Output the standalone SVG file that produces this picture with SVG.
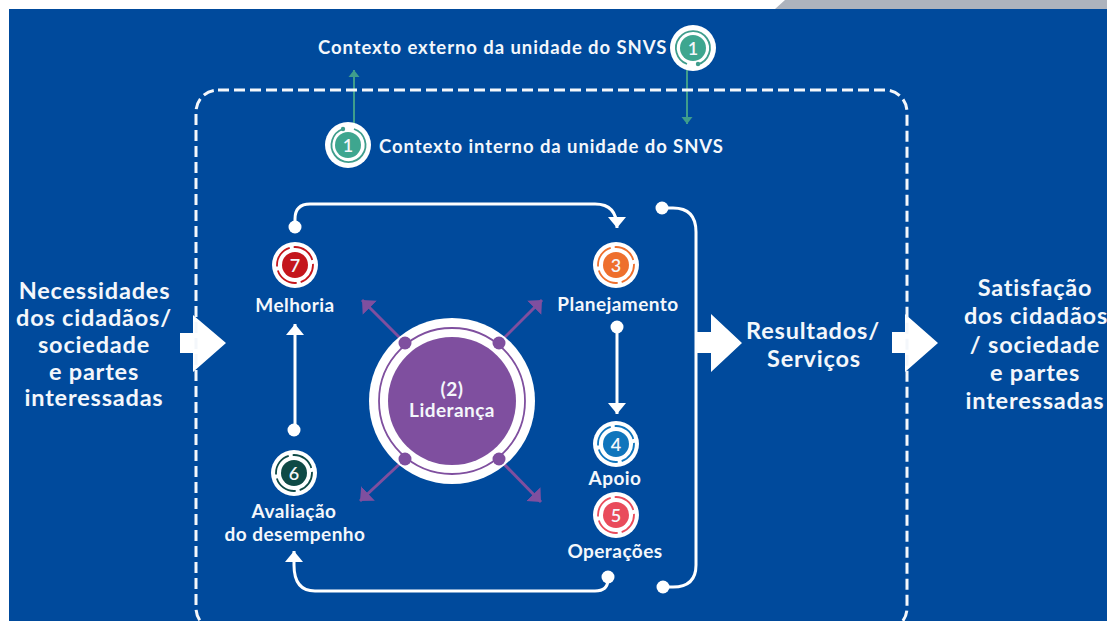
<svg xmlns="http://www.w3.org/2000/svg" width="1107" height="621" viewBox="0 0 1107 621">
<defs>
<style>
text{font-family:"Lato","Liberation Sans",sans-serif;font-weight:700;fill:#f4f7fb;text-anchor:middle}
.ctx{font-size:18.500px;letter-spacing:.92px;text-anchor:start}
.lab{font-size:19px;letter-spacing:.45px}
.big{font-size:23.500px;letter-spacing:.8px}
.num{font-size:18px;font-weight:600}
.w{fill:none;stroke:#fff;stroke-width:3}
.g{fill:none;stroke:#3f9d8c;stroke-width:2}
.r{fill:none;stroke:#3f9d8c;stroke-width:1.800}
.p{fill:none;stroke:#7f4f9f;stroke-width:3}
.d{fill:none;stroke-width:1.800;stroke-dasharray:24.300 4;stroke-dashoffset:2}
</style>
<marker id="ah" markerUnits="userSpaceOnUse" markerWidth="12" markerHeight="20" refX="11" refY="10" orient="auto"><path d="M0 1L11 10L0 19Z" fill="#fff"/></marker>
<marker id="ag" markerUnits="userSpaceOnUse" markerWidth="8" markerHeight="12" refX="7" refY="6" orient="auto"><path d="M0 .5L7 6L0 11.5Z" fill="#3f9d8c"/></marker>
<marker id="ap" markerUnits="userSpaceOnUse" markerWidth="12" markerHeight="22" refX="11" refY="11" orient="auto"><path d="M0 1L11 11L0 21Z" fill="#7f4f9f"/></marker>
</defs>
<rect width="1107" height="621" fill="#fff"/>
<path d="M775 9L785 0H1107V9Z" fill="#adb3bd"/>
<rect x="9" y="9" width="1098" height="612" fill="#004a9c"/>

<g id="connectors">
<path class="g" d="M354 128V70" marker-end="url(#ag)"/>
<path class="g" d="M687 68V124" marker-end="url(#ag)"/>
<path class="w" d="M295 228V219Q295 204 310 204H595Q617 204 617 228" marker-end="url(#ah)"/>
<circle cx="295" cy="227" r="6.500" fill="#fff"/>
<path class="w" d="M662 208H673Q696 208 696 232V565Q696 587 673 587H662"/>
<circle cx="662" cy="208" r="6.500" fill="#fff"/>
<circle cx="663" cy="587" r="6.500" fill="#fff"/>
<path class="w" d="M617 327V414" marker-end="url(#ah)"/>
<circle cx="617" cy="327" r="6.500" fill="#fff"/>
<path class="w" d="M295 430V324" marker-end="url(#ah)"/>
<circle cx="294" cy="430" r="6.500" fill="#fff"/>
<path class="w" d="M608 577V579Q608 591 595 591H315Q294 591 294 565V551" marker-end="url(#ah)"/>
<circle cx="608" cy="577" r="6.500" fill="#fff"/>
<path class="p" d="M405 343L362 300" marker-end="url(#ap)"/>
<path class="p" d="M499 343L542 300" marker-end="url(#ap)"/>
<path class="p" d="M405 459L360 501" marker-end="url(#ap)"/>
<path class="p" d="M499 459L541 502" marker-end="url(#ap)"/>
<path d="M180 333H193V315L226 343L193 372V353H180Z" fill="#fff"/>
<path d="M697 332H711V314L742 343L711 372V353H697Z" fill="#fff"/>
<path d="M892 332H905V314L938 343L905 372V353H892Z" fill="#fff"/>
</g>
<rect id="limite" x="196" y="90" width="711" height="540" rx="22" fill="none" stroke="#f4f7fb" stroke-width="3" stroke-dasharray="11 5"/>

<g id="ctx-ext">
<text class="ctx" x="318" y="53.500">Contexto externo da unidade do SNVS</text>
<circle cx="693" cy="48" r="23" fill="#fff"/>
<path class="r" d="M687 64A17 17 0 1 1 698 64.300"/>
<circle cx="698" cy="64" r="2.200" fill="#3f9d8c"/>
<circle cx="693" cy="48" r="13" fill="#3ea68f"/>
<text class="num" x="693" y="54.500">1</text>
</g>
<g id="ctx-int">
<circle cx="348" cy="145" r="23" fill="#fff"/>
<path class="r" d="M354 129A17 17 0 1 1 343 129"/>
<circle cx="343" cy="129" r="2.200" fill="#3f9d8c"/>
<circle cx="348" cy="145" r="13" fill="#3ea68f"/>
<text class="num" x="348" y="151.500">1</text>
<text class="ctx" x="379" y="152.500">Contexto interno da unidade do SNVS</text>
</g>

<g id="n7">
<circle cx="295" cy="265" r="23" fill="#fff"/>
<circle cx="295" cy="265" r="18" class="d" stroke="#c4161c"/>
<circle cx="295" cy="265" r="13" fill="#c4161c"/>
<text class="num" x="295" y="271.500">7</text>
<text class="lab" x="295" y="312">Melhoria</text>
</g>
<g id="n3">
<circle cx="616" cy="265" r="23" fill="#fff"/>
<circle cx="616" cy="265" r="18" class="d" stroke="#ee6f2d"/>
<circle cx="616" cy="265" r="13" fill="#ee6f2d"/>
<text class="num" x="616" y="271.500">3</text>
<text class="lab" x="618" y="311">Planejamento</text>
</g>
<g id="n4">
<circle cx="616" cy="444" r="23" fill="#fff"/>
<circle cx="616" cy="444" r="18" class="d" stroke="#0f75bc"/>
<circle cx="616" cy="444" r="13" fill="#0f75bc"/>
<text class="num" x="616" y="450.500">4</text>
<text class="lab" x="615" y="485">Apoio</text>
</g>
<g id="n5">
<circle cx="616" cy="515" r="23" fill="#fff"/>
<circle cx="616" cy="515" r="18" class="d" stroke="#e94b5b"/>
<circle cx="616" cy="515" r="13" fill="#e94b5b"/>
<text class="num" x="616" y="521.500">5</text>
<text class="lab" x="615" y="558">Operações</text>
</g>
<g id="n6">
<circle cx="294" cy="473" r="23" fill="#fff"/>
<circle cx="294" cy="473" r="18" class="d" stroke="#0f4a46"/>
<circle cx="294" cy="473" r="13" fill="#0f4a46"/>
<text class="num" x="294" y="479.500">6</text>
<text class="lab" x="294" y="518">Avaliação</text>
<text class="lab" x="295" y="541">do desempenho</text>
</g>

<g id="lideranca">
<circle cx="452" cy="401" r="83" fill="#fff"/>
<circle cx="452" cy="401" r="73" fill="none" stroke="#7f4f9f" stroke-width="1.800"/>
<circle cx="452" cy="401" r="64" fill="#7f4f9f"/>
<circle cx="405" cy="343" r="6.500" fill="#7f4f9f"/>
<circle cx="499" cy="343" r="6.500" fill="#7f4f9f"/>
<circle cx="405" cy="459" r="6.500" fill="#7f4f9f"/>
<circle cx="499" cy="459" r="6.500" fill="#7f4f9f"/>
<text class="lab" x="452" y="396">(2)</text>
<text class="lab" x="452" y="417">Liderança</text>
</g>

<g id="necessidades">
<text class="big" x="94.500" y="299">Necessidades</text>
<text class="big" x="94" y="326">dos cidadãos/</text>
<text class="big" x="94" y="352.500">sociedade</text>
<text class="big" x="94" y="379.500">e partes</text>
<text class="big" x="94" y="406">interessadas</text>
</g>
<g id="resultados">
<text class="big" x="813" y="338.500">Resultados/</text>
<text class="big" x="814" y="366.500">Serviços</text>
</g>
<g id="satisfacao">
<text class="big" x="1035" y="295.500">Satisfação</text>
<text class="big" x="1036" y="323.500">dos cidadãos</text>
<text class="big" x="1035" y="352.500">/ sociedade</text>
<text class="big" x="1035" y="380.500">e partes</text>
<text class="big" x="1035" y="409">interessadas</text>
</g>
</svg>
